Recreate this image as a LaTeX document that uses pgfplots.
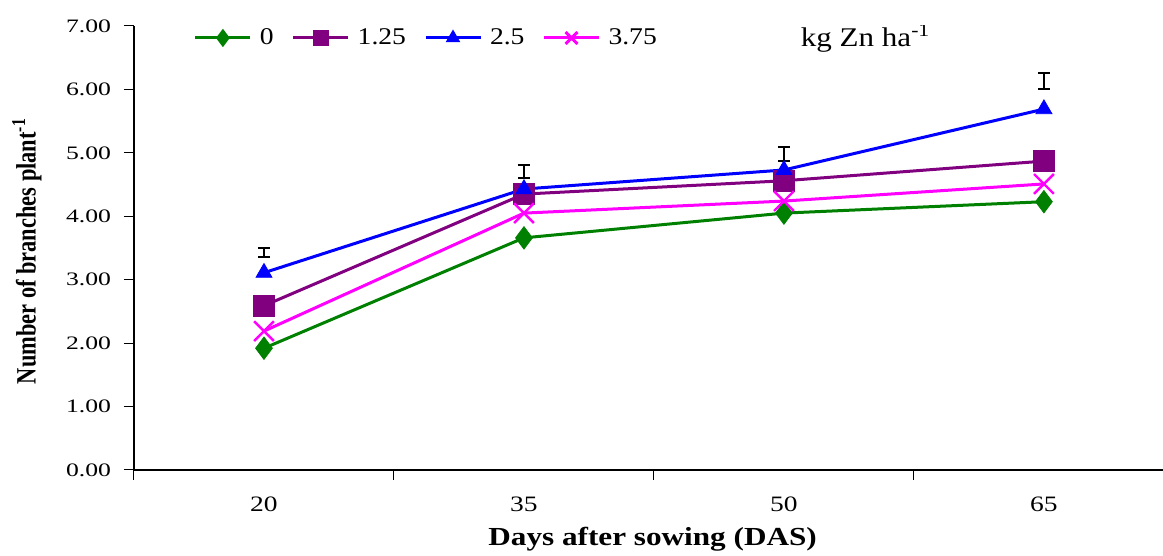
\documentclass[border=0pt]{standalone}
\usepackage{fontspec}
\setmainfont{Liberation Serif}
\newfontfamily\ytfont{Liberation Serif}[FakeStretch=1.35]
\newfontfamily\xtfont{Liberation Serif}[FakeStretch=1.25]
\newfontfamily\lgfont{Liberation Serif}[FakeStretch=1.15]
\newfontfamily\labfont{Liberation Serif}[FakeStretch=0.8]
\newfontfamily\xlabfont{Liberation Serif}[FakeStretch=1.2]
\usepackage{pgfplots}
\pgfplotsset{compat=1.18}
\definecolor{cgreen}{RGB}{0,128,0}
\definecolor{cpurple}{RGB}{128,0,128}
\definecolor{cblue}{RGB}{0,0,255}
\definecolor{cmag}{RGB}{255,0,255}
\begin{document}
\begin{tikzpicture}
\begin{axis}[
  scale only axis,
  width=514.5pt, height=222pt,
  xmin=-0.5, xmax=3.458, ymin=0, ymax=7,
  axis lines*=left,
  axis line style={-, black, line width=0.6pt},
  tick align=outside,
  tick style={black, line width=0.5pt},
  xtick={0,1,2,3},
  xticklabels={20,35,50,65},
  major x tick style={draw=none},
  minor xtick={-0.5,0.5,1.5,2.5},
  minor tick length=5pt,
  major tick length=5pt,
  ytick={0,1,...,7},
  /pgf/number format/assume math mode=true,
  yticklabel={\pgfmathprintnumber[fixed,fixed zerofill,precision=2]{\tick}},
  yticklabel style={font=\ytfont\fontsize{9.5}{11}\selectfont, xshift=-3pt},
  xticklabel style={font=\xtfont\fontsize{11}{13}\selectfont, anchor=center, at={(0,0)}},
  xticklabel shift=0pt,
  every x tick label/.append style={yshift=-12pt},
  xlabel={\textbf{Days after sowing (DAS)}},
  xlabel style={font=\xlabfont\fontsize{13}{15}\selectfont, at={(rel axis cs:0.504,-0.155)}, anchor=center},
  ylabel={\textbf{Number of branches plant\textsuperscript{-1}}},
  ylabel style={font=\labfont\fontsize{14}{16}\selectfont, at={(rel axis cs:-0.104,0.493)}, anchor=center, rotate=0},
  legend columns=-1,
  legend style={draw=none, fill=none, font=\lgfont\fontsize{12}{14}\selectfont,
    at={(rel axis cs:0.052,0.973)}, anchor=west,
    /tikz/every odd column/.append style={column sep=2pt},
    /tikz/every even column/.append style={column sep=7pt}},
  legend image code/.code={\draw[mark repeat=2, mark phase=2, mark options={scale=0.6}] plot coordinates {(0pt,0pt) (13.75pt,0pt) (27.5pt,0pt)};},
]
\addplot[color=cgreen, line width=1.5pt, mark=diamond*, mark size=5.6pt, mark options={fill=cgreen, draw=cgreen, line width=0.4pt}] coordinates {(0,1.92) (1,3.66) (2,4.05) (3,4.23)};
\addlegendentry{0}
\addplot[color=cpurple, line width=1.5pt, mark=square*, mark size=5.3pt, mark options={fill=cpurple, draw=cpurple, line width=0.4pt}] coordinates {(0,2.59) (1,4.35) (2,4.56) (3,4.87)};
\addlegendentry{1.25}
\addplot[color=cblue, line width=1.5pt, mark=triangle*, mark size=4.6pt, mark options={fill=cblue, draw=cblue, line width=0.4pt}] coordinates {(0,3.11) (1,4.43) (2,4.73) (3,5.69)};
\addlegendentry{2.5}
\addplot[color=cmag, line width=1.5pt, mark=x, mark size=7pt, mark options={draw=cmag, line width=1.2pt}] coordinates {(0,2.19) (1,4.05) (2,4.24) (3,4.51)};
\addlegendentry{3.75}
\addplot[draw=none, mark=none, forget plot,
  error bars/.cd, y dir=both, y explicit,
  error bar style={draw=black, line width=1pt},
  error mark options={rotate=90, draw=black, mark size=3pt, line width=1pt}]
  coordinates {(0,3.43) +- (0,0.07) (1,4.71) +- (0,0.10) (2,4.98) +- (0,0.11) (3,6.13) +- (0,0.13)};
\node[font=\lgfont\fontsize{13.5}{15}\selectfont, anchor=center] at (rel axis cs:0.711,0.973) {kg Zn ha\textsuperscript{-1}};
\coordinate (sw) at (rel axis cs:0,0);
\end{axis}
\pgfresetboundingbox
\path[use as bounding box] (sw) ++(-67pt,-43pt) rectangle ++(581.5pt,278pt);
\end{tikzpicture}
\end{document}
